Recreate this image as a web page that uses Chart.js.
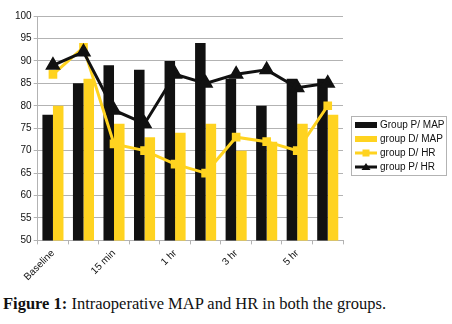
<!DOCTYPE html>
<html>
<head>
<meta charset="utf-8">
<script src="https://cdn.jsdelivr.net/npm/chart.js@4/dist/chart.umd.min.js"></script>
<style>
  html, body { margin: 0; padding: 0; background: #fff; }
  #wrap { position: relative; width: 452px; height: 324px; }
  #chart-box { position: absolute; left: 0; top: 0; width: 452px; height: 290px; }
  #caption {
    position: absolute; left: 3px; top: 294px;
    font-family: "Liberation Serif", "DejaVu Serif", serif;
    font-size: 16.5px; color: #111; white-space: nowrap;
  }
</style>
</head>
<body>
<div id="wrap">
  <div id="chart-box"><canvas id="myChart" width="452" height="290"></canvas></div>
  <div id="caption"><b>Figure 1:</b> Intraoperative MAP and HR in both the groups.</div>
</div>
<script>
// time points (only every second one gets a visible label in the figure)
var labels = ['Baseline', '5 min', '15 min', '30 min', '1 hr', '2 hr', '3 hr', '4 hr', '5 hr', '6 hr'];

// values
var groupPMap = [78, 85, 89, 88, 90, 94, 86, 80, 86, 86];
var groupDMap = [80, 86, 76, 73, 74, 76, 70, 72, 76, 78];
var groupDHr  = [87, 93, 71.5, 70, 67, 65, 73, 72, 70, 80];
var groupPHr  = [89, 92, 79, 76, 87, 85, 87, 88, 84, 85];

var yTicks = [50, 55, 60, 65, 70, 75, 80, 85, 90, 95, 100];

var black = '#111111';
var yellow = '#ffd320';
var gridGrey = '#b3b3b3';
var fontFamily = '"Liberation Sans", Arial, sans-serif';

// legend drawn by hand so it sits in a framed box like the original
var legendEntries = [
    { text: 'Group P/ MAP', color: black, kind: 'bar' },
    { text: 'group D/ MAP', color: yellow, kind: 'bar' },
    { text: 'group D/ HR', color: yellow, kind: 'square' },
    { text: 'group P/ HR', color: black, kind: 'triangle' }
];

var boxLegend = {
    id: 'boxLegend',
    afterDraw: function(chart) {
        var ctx = chart.ctx;
        var x0 = 351, y0 = 116;
        ctx.save();
        ctx.strokeStyle = gridGrey;
        ctx.lineWidth = 1;
        ctx.strokeRect(x0 + 0.5, y0 + 0.5, 95, 59);

        ctx.font = '10px ' + fontFamily;
        ctx.textBaseline = 'middle';
        ctx.textAlign = 'left';
        legendEntries.forEach(function(e, i) {
            var cy = 125 + i * 14;
            var sx = x0 + 4;
            ctx.fillStyle = e.color;
            if (e.kind === 'bar') {
                ctx.fillRect(sx, cy - 3, 22, 6);
            } else {
                ctx.fillRect(sx, cy - 1.5, 22, 3);
                var mx = sx + 11;
                if (e.kind === 'square') {
                    ctx.fillRect(mx - 3.5, cy - 3.5, 7, 7);
                } else {
                    ctx.beginPath();
                    ctx.moveTo(mx, cy - 4);
                    ctx.lineTo(mx + 4.5, cy + 3);
                    ctx.lineTo(mx - 4.5, cy + 3);
                    ctx.closePath();
                    ctx.fill();
                }
            }
            ctx.fillStyle = '#111';
            ctx.fillText(e.text, sx + 25, cy + 0.5);
        });
        ctx.restore();
    }
};

var ctx = document.getElementById('myChart').getContext('2d');
var myChart = new Chart(ctx, {
    type: 'bar',
    data: {
        labels: labels,
        datasets: [{
            label: 'Group P/ MAP',
            data: groupPMap,
            backgroundColor: black,
            categoryPercentage: 0.69,
            barPercentage: 1.0,
            order: 2
        }, {
            label: 'group D/ MAP',
            data: groupDMap,
            backgroundColor: yellow,
            categoryPercentage: 0.69,
            barPercentage: 1.0,
            order: 3
        }, {
            type: 'line',
            label: 'group D/ HR',
            data: groupDHr,
            borderColor: yellow,
            backgroundColor: yellow,
            borderWidth: 3,
            pointStyle: 'rect',
            pointRadius: 4,
            pointBackgroundColor: yellow,
            pointBorderColor: yellow,
            tension: 0,
            order: 1
        }, {
            type: 'line',
            label: 'group P/ HR',
            data: groupPHr,
            borderColor: black,
            backgroundColor: black,
            borderWidth: 3,
            pointStyle: 'triangle',
            pointRadius: 6,
            pointBackgroundColor: black,
            pointBorderColor: black,
            tension: 0,
            order: 0
        }]
    },
    options: {
        responsive: false,
        animation: false,
        layout: { padding: { left: 13, top: 16, right: 109, bottom: 4 } },
        plugins: {
            tooltip: { enabled: false },
            legend: { display: false }
        },
        scales: {
            x: {
                offset: true,
                grid: {
                    display: true,
                    drawOnChartArea: false,
                    drawTicks: true,
                    tickLength: 4,
                    color: gridGrey,
                    offset: true
                },
                border: { color: gridGrey },
                ticks: {
                    autoSkip: false,
                    maxRotation: 45,
                    minRotation: 45,
                    color: '#111',
                    font: { family: fontFamily, size: 10 },
                    callback: function(val, i) {
                        return i % 2 === 0 ? labels[i] : '';
                    }
                }
            },
            y: {
                min: 50,
                max: 100,
                afterBuildTicks: function(axis) {
                    axis.ticks = yTicks.map(function(v) { return { value: v }; });
                },
                grid: {
                    color: gridGrey,
                    tickLength: 4
                },
                border: { color: gridGrey },
                ticks: {
                    color: '#111',
                    padding: 2,
                    font: { family: fontFamily, size: 10 }
                }
            }
        }
    },
    plugins: [boxLegend]
});
</script>
</body>
</html>
